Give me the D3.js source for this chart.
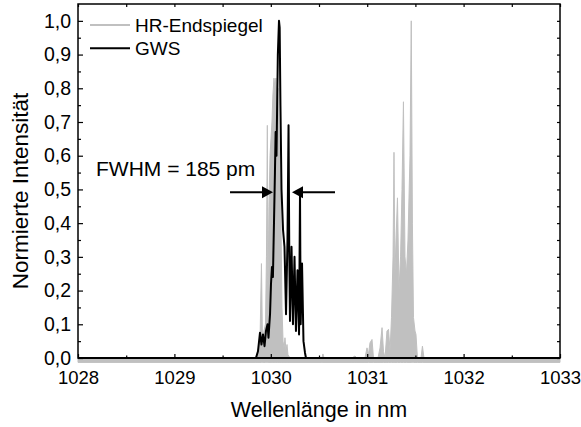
<!DOCTYPE html>
<html>
<head>
<meta charset="utf-8">
<script src="https://cdn.jsdelivr.net/npm/d3@7"></script>
<style>
  body { margin: 0; background: #fff; }
  text { font-family: "Liberation Sans", Arial, sans-serif; fill: #000; }
</style>
</head>
<body>
<svg id="chart" width="581" height="427"></svg>
<script>
// Spectrum of the HR end mirror (grey, filled)
const hrWavelength = [1028.0, 1029.846, 1029.867, 1029.888, 1029.903, 1029.914, 1029.929, 1029.945, 1029.955, 1029.964,
  1029.971, 1029.981, 1029.992, 1030.002, 1030.012, 1030.022, 1030.033, 1030.043, 1030.053, 1030.064,
  1030.073, 1030.085, 1030.095, 1030.106, 1030.116, 1030.127, 1030.137, 1030.147, 1030.158, 1030.168,
  1030.178, 1030.199, 1030.53, 1030.541, 1030.552, 1030.842, 1030.873, 1030.894, 1030.977, 1030.998,
  1031.013, 1031.029, 1031.050, 1031.065, 1031.112, 1031.133, 1031.154, 1031.169, 1031.185, 1031.205,
  1031.221, 1031.237, 1031.252, 1031.268, 1031.278, 1031.288, 1031.299, 1031.314, 1031.330, 1031.346,
  1031.361, 1031.376, 1031.392, 1031.407, 1031.423, 1031.444, 1031.457, 1031.469, 1031.480, 1031.496,
  1031.506, 1031.521, 1031.558, 1031.573, 1031.589, 1033.0];
const hrIntensity = [0, 0, 0.02, 0.05, 0.28, 0.04, 0.08, 0.1, 0.3, 0.69,
  0.2, 0.45, 0.6, 0.65, 0.7, 0.78, 0.83, 0.8, 0.83, 0.77,
  0.8, 0.65, 0.55, 0.4, 0.15, 0.05, 0.03, 0.06, 0.02, 0.04,
  0.01, 0, 0, 0.012, 0, 0, 0.006, 0, 0, 0.03,
  0.01, 0.045, 0.055, 0, 0, 0.03, 0.09, 0.02, 0, 0.08,
  0.085, 0.02, 0.12, 0.3, 0.61, 0.25, 0.35, 0.475, 0.2, 0.3,
  0.5, 0.76, 0.3, 0.25, 0.35, 0.6, 1.0, 0.4, 0.12, 0.08,
  0.07, 0, 0, 0.035, 0, 0];

// Spectrum with the grating waveguide structure (black line)
const gwsWavelength = [1028.0, 1029.846, 1029.867, 1029.888, 1029.903, 1029.919, 1029.935, 1029.950, 1029.966, 1029.976,
  1029.992, 1030.002, 1030.012, 1030.022, 1030.033, 1030.043, 1030.050, 1030.059, 1030.073, 1030.085,
  1030.092, 1030.100, 1030.111, 1030.127, 1030.142, 1030.158, 1030.173, 1030.184, 1030.192, 1030.199,
  1030.215, 1030.230, 1030.246, 1030.261, 1030.277, 1030.293, 1030.303, 1030.310, 1030.324, 1030.339,
  1030.355, 1030.365, 1033.0];
const gwsIntensity = [0, 0, 0.02, 0.075, 0.04, 0.07, 0.035, 0.08, 0.1, 0.06,
  0.13, 0.22, 0.27, 0.24, 0.4, 0.55, 0.67, 0.6, 0.9, 1.0,
  0.98, 0.75, 0.5, 0.38, 0.33, 0.13, 0.35, 0.69, 0.3, 0.11,
  0.33, 0.1, 0.3, 0.08, 0.26, 0.07, 0.49, 0.1, 0.28, 0.05,
  0.015, 0, 0];

const xTicks = [1028, 1029, 1030, 1031, 1032, 1033];
const yTicks = [0, 0.1, 0.2, 0.3, 0.4, 0.5, 0.6, 0.7, 0.8, 0.9, 1.0];
const legendLabels = ["HR-Endspiegel", "GWS"];
const fwhmLabel = "FWHM = 185 pm";
const fwhmLevel = 0.492;
const fwhmLeftArrow = [1029.577, 1030.023];   // tail, tip
const fwhmRightArrow = [1030.666, 1030.220];  // tail, tip
const hrBaseline = -0.013;

const width = 581, height = 427;
const margin = { top: 4, right: 21, bottom: 69, left: 78 };
const svg = d3.select('#chart');

const x = d3.scaleLinear().domain([1028, 1033]).range([margin.left, width - margin.right]);
const y = d3.scaleLinear().domain([0, 1.05]).range([height - margin.bottom, margin.top]);
const fmt = d => d3.format('.1f')(d).replace('.', ',');

// HR-Endspiegel area
const hr = hrWavelength.map((w, i) => ({ w, v: hrIntensity[i] }));
svg.append('path')
  .datum(hr)
  .attr('fill', '#c0c0c0')
  .attr('stroke', '#c0c0c0')
  .attr('stroke-width', 1)
  .attr('d', d3.area().x(d => x(d.w)).y0(y(hrBaseline)).y1(d => y(d.v)));

// GWS line
const gws = gwsWavelength.map((w, i) => ({ w, v: gwsIntensity[i] }));
svg.append('path')
  .datum(gws)
  .attr('fill', 'none')
  .attr('stroke', '#000')
  .attr('stroke-width', 2)
  .attr('stroke-linejoin', 'round')
  .attr('d', d3.line().x(d => x(d.w)).y(d => y(d.v)));

// frame
svg.append('rect')
  .attr('x', x(1028)).attr('y', y(1.05))
  .attr('width', x(1033) - x(1028)).attr('height', y(0) - y(1.05))
  .attr('fill', 'none').attr('stroke', '#000').attr('stroke-width', 1.5);
svg.append('line')
  .attr('x1', x(1028)).attr('x2', x(1033)).attr('y1', y(0)).attr('y2', y(0))
  .attr('stroke', '#000').attr('stroke-width', 2);

// axes: ticks point inward
const xMinor = d3.range(1028.5, 1033, 1);
const yMinor = d3.range(0.05, 1.05, 0.1);

function styleAxis(size) {
  return g => {
    g.select('.domain').remove();
    g.selectAll('.tick line').attr('stroke', '#000').attr('stroke-width', 1.2);
    g.selectAll('.tick text').style('font-size', size + 'px');
  };
}

svg.append('g').attr('transform', `translate(0,${y(0)})`)
  .call(d3.axisBottom(x).tickValues(xTicks).tickSize(-4).tickPadding(13).tickFormat(d3.format('d')))
  .call(styleAxis(18.5));
svg.append('g').attr('transform', `translate(0,${y(0)})`)
  .call(d3.axisBottom(x).tickValues(xMinor).tickSize(-2.5).tickFormat(''))
  .call(styleAxis(18.5));
svg.append('g').attr('transform', `translate(0,${y(1.05)})`)
  .call(d3.axisTop(x).tickValues(xTicks.concat(xMinor)).tickSize(-3).tickFormat(''))
  .call(styleAxis(18.5));

svg.append('g').attr('transform', `translate(${x(1028)},0)`)
  .call(d3.axisLeft(y).tickValues(yTicks).tickSize(-5).tickPadding(7).tickFormat(fmt))
  .call(styleAxis(19.5));
svg.append('g').attr('transform', `translate(${x(1028)},0)`)
  .call(d3.axisLeft(y).tickValues(yMinor).tickSize(-3).tickFormat(''))
  .call(styleAxis(19.5));
svg.append('g').attr('transform', `translate(${x(1033)},0)`)
  .call(d3.axisRight(y).tickValues(yTicks.concat(yMinor)).tickSize(-3).tickFormat(''))
  .call(styleAxis(19.5));

// axis titles
svg.append('text')
  .attr('x', (x(1028) + x(1033)) / 2).attr('y', 417)
  .attr('text-anchor', 'middle').style('font-size', '21.5px')
  .text('Wellenlänge in nm');
svg.append('text')
  .attr('transform', `translate(28,${(y(0) + y(1.05)) / 2 + 10}) rotate(-90)`)
  .attr('text-anchor', 'middle').style('font-size', '22.5px')
  .text('Normierte Intensität');

// legend
const legendColors = ['#c0c0c0', '#000'];
const legend = svg.append('g').attr('transform', 'translate(90,25)');
legendLabels.forEach((label, i) => {
  const row = legend.append('g').attr('transform', `translate(0,${i * 23.3})`);
  row.append('line').attr('x1', 0).attr('x2', 40).attr('stroke', legendColors[i]).attr('stroke-width', 2);
  row.append('text').attr('x', 45).attr('y', 6.5).style('font-size', '19px').text(label);
});

// FWHM annotation
svg.append('text')
  .attr('x', 96).attr('y', 176)
  .style('font-size', '21px')
  .text(fwhmLabel);

function arrow(pts) {
  const [tail, tip] = pts;
  const dir = Math.sign(tip - tail);
  const ya = y(fwhmLevel);
  svg.append('line')
    .attr('x1', x(tail)).attr('x2', x(tip) - dir * 8).attr('y1', ya).attr('y2', ya)
    .attr('stroke', '#000').attr('stroke-width', 2);
  svg.append('path')
    .attr('d', `M${x(tip)},${ya} L${x(tip) - dir * 11},${ya - 6} L${x(tip) - dir * 11},${ya + 6} Z`)
    .attr('fill', '#000');
}
arrow(fwhmLeftArrow);
arrow(fwhmRightArrow);
</script>
</body>
</html>
